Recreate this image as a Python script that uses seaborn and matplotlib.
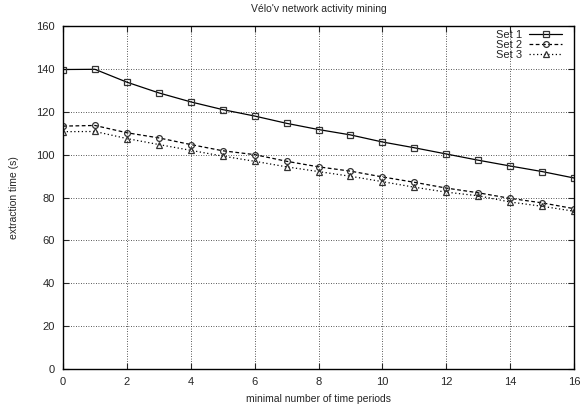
import matplotlib
matplotlib.use("Agg")
import matplotlib.pyplot as plt
import seaborn as sns
import pandas as pd

x_vals = list(range(17))
set1 = [139.7, 139.8, 133.8, 128.8, 124.6, 121.0, 118.0, 114.6, 111.7, 109.2, 105.9, 103.2, 100.3, 97.4, 94.7, 92.1, 89.1]
set2 = [113.3, 113.6, 110.2, 107.8, 104.7, 101.8, 100.0, 96.9, 94.3, 92.3, 89.6, 87.1, 84.4, 82.2, 79.6, 77.5, 74.8]
set3 = [110.7, 110.8, 107.5, 104.7, 102.0, 99.3, 96.9, 94.3, 92.1, 89.9, 87.4, 84.8, 82.5, 80.8, 77.9, 75.9, 73.6]
series_names = ["Set 1", "Set 2", "Set 3"]
title = "Vélo'v network activity mining"
xlabel = "minimal number of time periods"
ylabel = "extraction time (s)"

sns.set_theme(style="ticks")
plt.rcParams["font.family"] = ["Liberation Sans", "DejaVu Sans"]

fig = plt.figure(figsize=(5.82, 4.12), dpi=100)
ax = fig.add_axes([63/582, 1-369/412, (574-63)/582, (369-26)/412])

styles = [("-", "s", 4.8), ((0, (3, 2)), "o", 4.2), ((0, (1, 2)), "^", 4.2)]
for name, vals, (ls, mk, ms) in zip(series_names, [set1, set2, set3], styles):
    df = pd.DataFrame({"x": x_vals, "y": vals})
    sns.lineplot(data=df, x="x", y="y", ax=ax, color="black", linestyle=ls,
                 marker=mk, markersize=ms, markerfacecolor="none",
                 markeredgecolor="#333333", markeredgewidth=0.9, linewidth=0.9,
                 label=name)

ax.set_xlim(0, 16)
ax.set_ylim(0, 160)
ax.set_xticks(range(0, 17, 2))
ax.set_yticks(range(0, 161, 20))
ax.grid(True, linestyle=(0, (1, 2)), color="#222222", linewidth=0.6)
ax.tick_params(direction="in", top=True, right=True, labelsize=8, length=4, width=0.8, pad=6)
for s in ax.spines.values():
    s.set_linewidth(1.0)
    s.set_color("black")

ax.set_title(title, fontsize=7.5, pad=10)
ax.set_xlabel(xlabel, fontsize=7.5, labelpad=5)
ax.set_ylabel(ylabel, fontsize=7.5, labelpad=12)

leg = ax.legend(loc="upper right", frameon=False, markerfirst=False, fontsize=8,
                handlelength=3.0, labelspacing=0.0, borderaxespad=0.15,
                borderpad=0.2, handletextpad=0.6, bbox_to_anchor=(0.985, 1.0))
for t in leg.get_texts():
    t.set_ha("right")

fig.savefig("out.png", dpi=100)
